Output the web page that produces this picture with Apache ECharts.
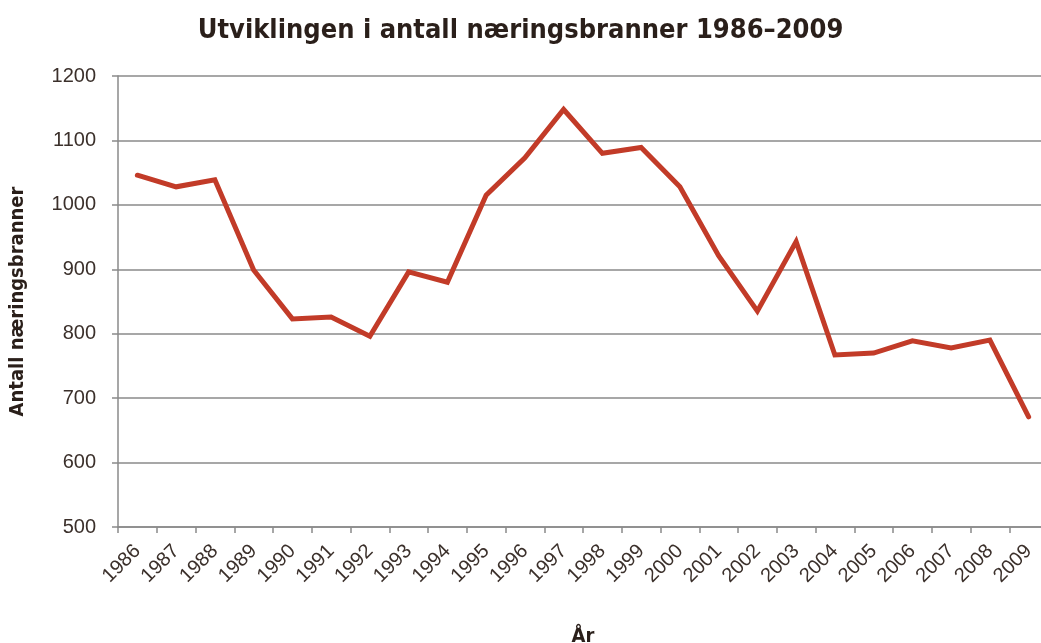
<!DOCTYPE html>
<html>
<head>
<meta charset="utf-8">
<script src="https://cdn.jsdelivr.net/npm/echarts@6/dist/echarts.min.js"></script>
<style>
  html, body { margin: 0; padding: 0; background: #fff; }
  #chart { width: 1041px; height: 643px; }
</style>
</head>
<body>
<div id="chart"></div>
<script>
const years = ['1986', '1987', '1988', '1989', '1990', '1991', '1992', '1993', '1994', '1995', '1996', '1997',
  '1998', '1999', '2000', '2001', '2002', '2003', '2004', '2005', '2006', '2007', '2008', '2009']
const fires = [1046, 1028, 1039, 899, 823, 826, 796, 896, 880, 1015, 1073, 1148,
  1080, 1089, 1028, 921, 835, 943, 767, 770, 789, 778, 790, 671]

const textColor = '#3b302b'
const gridColor = '#8a8a8a'
const headFont = 'DejaVu Sans Condensed'

const chart = echarts.init(document.getElementById('chart'))

chart.setOption({
  animation: false,
  title: {
    text: 'Utviklingen i antall næringsbranner 1986–2009',
    left: 'center',
    top: 12,
    textStyle: {
      fontFamily: headFont,
      fontWeight: 'bold',
      fontSize: 27,
      color: '#2a1f1a',
    },
  },
  grid: {
    left: 118,
    right: -7,
    top: 76,
    bottom: 116,
    outerBoundsMode: 'none',
  },
  xAxis: {
    type: 'category',
    data: years,
    boundaryGap: true,
    name: 'År',
    nameLocation: 'middle',
    nameGap: 100,
    nameTextStyle: {
      fontFamily: headFont,
      fontWeight: 'bold',
      fontSize: 20,
      color: '#2a1f1a',
    },
    axisLine: { lineStyle: { color: gridColor, width: 1.5 } },
    axisTick: { show: true, length: 6, lineStyle: { color: gridColor, width: 1.5 } },
    axisLabel: {
      rotate: 45,
      margin: 21,
      fontFamily: 'Liberation Sans',
      fontSize: 20,
      color: textColor,
    },
  },
  yAxis: {
    type: 'value',
    min: 500,
    max: 1200,
    interval: 100,
    name: 'Antall næringsbranner',
    nameLocation: 'middle',
    nameGap: 90,
    nameTextStyle: {
      fontFamily: headFont,
      fontWeight: 'bold',
      fontSize: 20,
      color: '#2a1f1a',
    },
    axisLine: { show: true, lineStyle: { color: gridColor, width: 1.5 } },
    axisTick: { show: true, length: 6, lineStyle: { color: gridColor, width: 1.5 } },
    axisLabel: {
      margin: 22,
      fontFamily: 'Liberation Sans',
      fontSize: 20,
      color: textColor,
      formatter: v => String(v),
    },
    splitLine: { lineStyle: { color: gridColor, width: 1.5 } },
  },
  series: [
    {
      name: 'Antall næringsbranner',
      type: 'line',
      data: fires,
      showSymbol: false,
      lineStyle: { width: 5, color: '#c23b28', cap: 'round', join: 'miter' },
    },
  ],
})
</script>
</body>
</html>
